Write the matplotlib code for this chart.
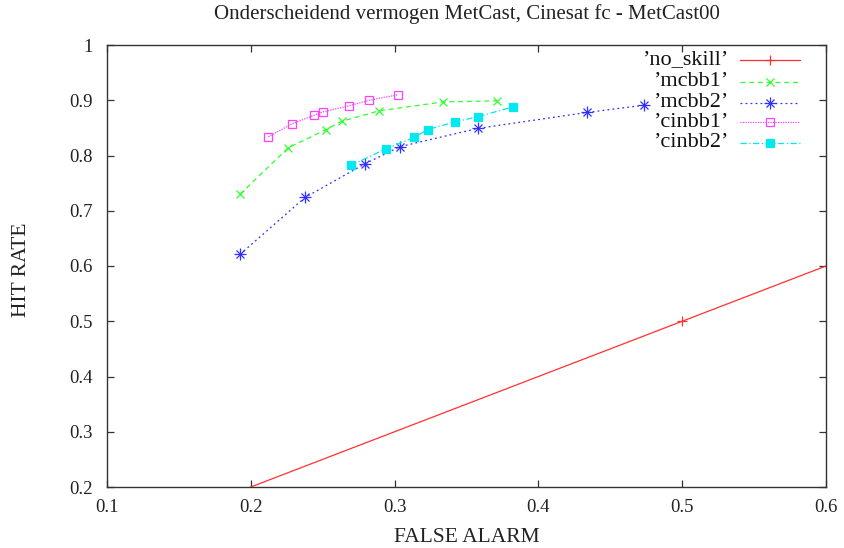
import matplotlib
matplotlib.use("Agg")
import matplotlib.pyplot as plt
from matplotlib.lines import Line2D

plt.rcParams["font.family"] = ["Liberation Serif", "DejaVu Serif"]

# ROC points: false alarm rate vs hit rate
no_skill_x = [0.0, 0.5, 1.0]
no_skill_y = [0.0, 0.5, 1.0]

mcbb1_x = [0.1925, 0.2261, 0.2523, 0.2632, 0.2894, 0.3339, 0.3710]
mcbb1_y = [0.730, 0.814, 0.847, 0.862, 0.881, 0.897, 0.899]

mcbb2_x = [0.1925, 0.2377, 0.2794, 0.3038, 0.3578, 0.4340, 0.4734]
mcbb2_y = [0.621, 0.724, 0.785, 0.816, 0.849, 0.878, 0.891]

cinbb1_x = [0.2122, 0.2284, 0.2440, 0.2504, 0.2683, 0.2824, 0.3024]
cinbb1_y = [0.834, 0.857, 0.873, 0.879, 0.890, 0.900, 0.910]

cinbb2_x = [0.2695, 0.2938, 0.3137, 0.3230, 0.3420, 0.3578, 0.3821]
cinbb2_y = [0.782, 0.812, 0.833, 0.847, 0.861, 0.870, 0.888]

x_ticks = [0.1, 0.2, 0.3, 0.4, 0.5, 0.6]
x_tick_labels = ["0.1", "0.2", "0.3", "0.4", "0.5", "0.6"]
y_ticks = [0.2, 0.3, 0.4, 0.5, 0.6, 0.7, 0.8, 0.9, 1.0]
y_tick_labels = ["0.2", "0.3", "0.4", "0.5", "0.6", "0.7", "0.8", "0.9", "1"]

fig = plt.figure(figsize=(8.44, 5.48), dpi=100)
ax = fig.add_axes([107 / 844, 1 - 487 / 548, 719 / 844, 442 / 548])

red, green, blue, magenta, cyan = "#ff3030", "#30ff30", "#3030ff", "#ff40ff", "#00e8f0"
lw = 0.9

series = [
    dict(label="\u2019no_skill\u2019", color=red, ls="-", markers=[dict(marker="+", ms=7, mfc=red)]),
    dict(label="\u2019mcbb1\u2019", color=green, ls=(0, (4, 3)), markers=[dict(marker="x", ms=6, mfc=green)]),
    dict(label="\u2019mcbb2\u2019", color=blue, ls=(0, (1.5, 2.5)),
         markers=[dict(marker="x", ms=6, mfc=blue), dict(marker="+", ms=8, mfc=blue)]),
    dict(label="\u2019cinbb1\u2019", color=magenta, ls=(0, (1, 1)), markers=[dict(marker="s", ms=6, mfc="none")]),
    dict(label="\u2019cinbb2\u2019", color=cyan, ls=(0, (5, 2, 1, 2)), markers=[dict(marker="s", ms=6, mfc=cyan)]),
]
data = [(no_skill_x, no_skill_y), (mcbb1_x, mcbb1_y), (mcbb2_x, mcbb2_y),
        (cinbb1_x, cinbb1_y), (cinbb2_x, cinbb2_y)]

for s, (xs, ys) in zip(series, data):
    ax.plot(xs, ys, color=s["color"], ls=s["ls"], lw=lw, clip_on=True)
    for m in s["markers"]:
        ax.plot(xs, ys, ls="none", marker=m["marker"], ms=m["ms"], mec=s["color"],
                mfc=m["mfc"], mew=0.9, clip_on=True)

ax.set_xlim(0.1, 0.6)
ax.set_ylim(0.2, 1.0)
ax.set_xticks(x_ticks)
ax.set_xticklabels(x_tick_labels)
ax.set_yticks(y_ticks)
ax.set_yticklabels(y_tick_labels)
ax.tick_params(direction="in", length=5, width=0.9, top=True, right=True,
               labelsize=13.5, colors="#333333", labelcolor="#222222")
ax.tick_params(axis="x", pad=9)
ax.tick_params(axis="y", pad=10)
for sp in ax.spines.values():
    sp.set_color("#333333")
    sp.set_linewidth(1.0)

fig.text(467 / 844, 1 - 14 / 548, "Onderscheidend vermogen MetCast, Cinesat fc - MetCast00",
         ha="center", va="center", fontsize=15, color="#222222")
fig.text(467 / 844, 1 - 537 / 548, "FALSE ALARM", ha="center", va="center",
         fontsize=15.5, color="#222222")
fig.text(22 / 844, 1 - 270 / 548, "HIT RATE", ha="center", va="center",
         rotation=90, fontsize=15.5, color="#222222")

# key in the upper right, labels right-aligned before the line samples
row_y = [60, 82, 102.5, 122.5, 142.5]
for s, py in zip(series, row_y):
    fy = 1 - py / 548
    fig.text(728 / 844, fy, s["label"], ha="right", va="center", fontsize=16, color="#111111")
    fig.add_artist(Line2D([740 / 844, 800 / 844], [fy, fy], transform=fig.transFigure,
                          color=s["color"], ls=s["ls"], lw=lw))
    for m in s["markers"]:
        fig.add_artist(Line2D([770 / 844], [fy], transform=fig.transFigure, ls="none",
                              marker=m["marker"], ms=m["ms"], mec=s["color"],
                              mfc=m["mfc"], mew=0.9))

fig.savefig("out.png", dpi=100)
